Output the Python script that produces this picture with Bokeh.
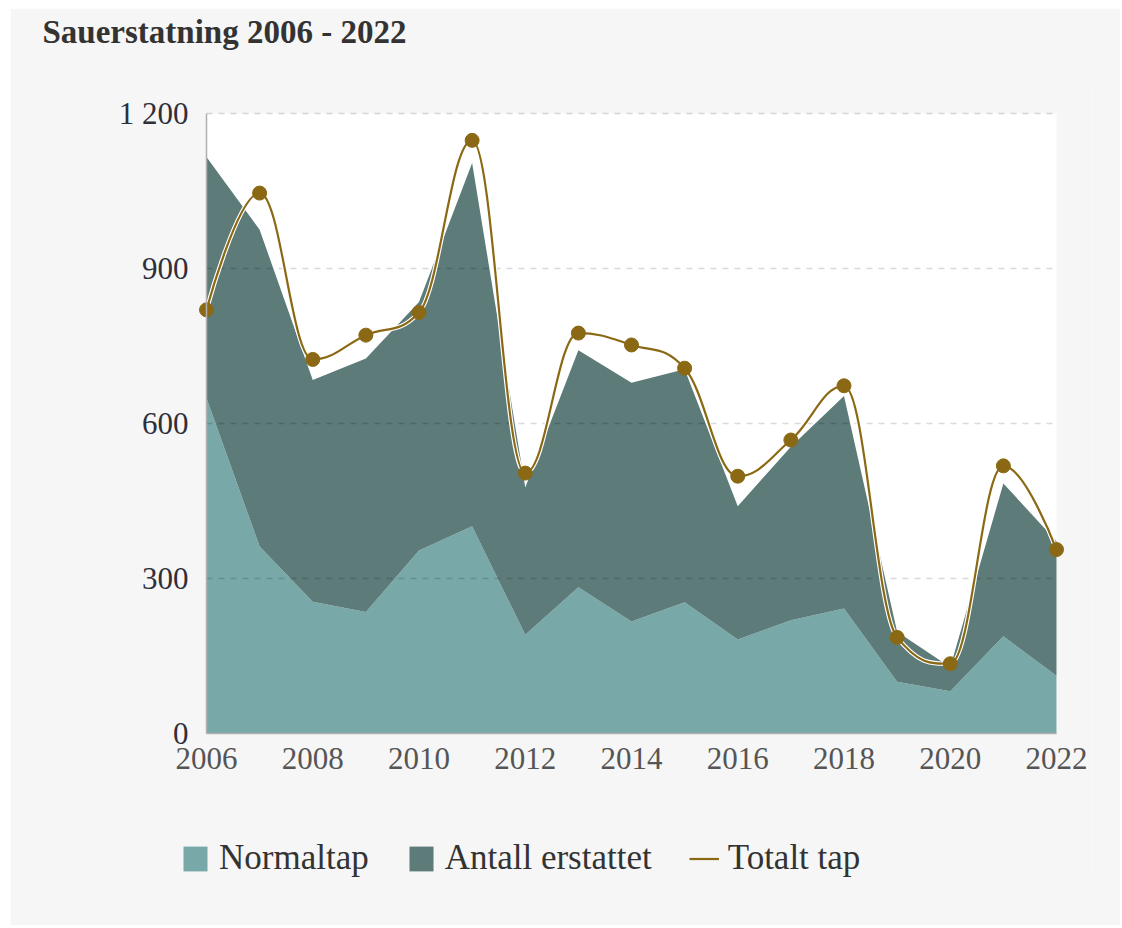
from bokeh.plotting import figure
from bokeh.models import (ColumnDataSource, FixedTicker, Legend, LegendItem, Title,
                          BoxAnnotation)
from bokeh.embed import file_html
from bokeh.resources import INLINE

# ---- data ----
years = list(range(2006, 2023))
normaltap = [649, 362, 255, 235, 354, 401, 191, 283, 217, 254, 182, 219, 242, 100, 82, 188, 112]
antall_erstattet = [467, 613, 429, 491, 481, 703, 285, 459, 462, 451, 258, 336, 411, 97, 46, 296, 260]
totalt_tap = [820, 1046, 724, 771, 815, 1148, 504, 775, 752, 707, 498, 568, 673, 186, 135, 518, 356]
y_ticks = [0, 300, 600, 900, 1200]
y_tick_labels = ["0", "300", "600", "900", "1 200"]
x_ticks = list(range(2006, 2023, 2))
series_names = ["Normaltap", "Antall erstattet", "Totalt tap"]
title_text = "Sauerstatning 2006 - 2022"

LIGHT = "#78a8a7"
DARK = "#5c7b79"
GOLD = "#8b6914"
BG = "#f6f6f6"
FONT = "Liberation Serif"

# ---- layout (pixels) ----
W, H = 1110, 917
B_LEFT, B_RIGHT, B_TOP, B_BOTTOM = 100, 28, 80, 47
PAD_L, PAD_R, PAD_T = 96, 36, 25   # frame space outside the plotting area (labels, legend)
PLOT_W = W - B_LEFT - B_RIGHT - PAD_L - PAD_R
PLOT_H = 620
FRAME_H = H - B_TOP - B_BOTTOM
x0, x1 = years[0], years[-1]
y_top = y_ticks[-1]
x_start = x0 - PAD_L * (x1 - x0) / PLOT_W
x_end = x1 + PAD_R * (x1 - x0) / PLOT_W
y_end = y_top + PAD_T * y_top / PLOT_H
y_start = y_end - FRAME_H * y_top / PLOT_H

src = ColumnDataSource(dict(year=years, normaltap=normaltap, erstattet=antall_erstattet, totalt=totalt_tap))

p = figure(width=W, height=H, output_backend="svg", toolbar_location=None,
           x_range=(x_start, x_end), y_range=(y_start, y_end),
           min_border_left=B_LEFT, min_border_right=B_RIGHT, min_border_top=B_TOP,
           min_border_bottom=B_BOTTOM)
p.margin = (8, 0, 0, 10)
p.background_fill_color = BG
p.border_fill_color = BG
p.outline_line_color = None
p.xgrid.visible = False
p.ygrid.visible = False

# white plotting area
p.add_layout(BoxAnnotation(left=x0, right=x1, bottom=0, top=y_top, fill_color="white",
                           fill_alpha=1, line_color=None, level="underlay"))

areas = p.varea_stack(["normaltap", "erstattet"], x="year", color=[LIGHT, DARK], source=src)

# dashed horizontal grid lines over the plotting area
gsrc = ColumnDataSource(dict(y=y_ticks[1:]))
p.segment(x0=x0, x1=x1, y0="y", y1="y", source=gsrc, line_color="black", line_alpha=0.15,
          line_dash="6 6", line_width=1.5)

# smooth spline through the total values (cubic Bezier segments, spline-style control points)
xs = [float(v) for v in years]
ys = [float(v) for v in totalt_tap]
n = len(xs)
sm = 1.5
lc = [None] * n
rc = [None] * n
for i in range(1, n - 1):
    px, py = xs[i], ys[i]
    lx_, ly_ = xs[i - 1], ys[i - 1]
    nx_, ny_ = xs[i + 1], ys[i + 1]
    lcx = (sm * px + lx_) / (sm + 1); lcy = (sm * py + ly_) / (sm + 1)
    rcx = (sm * px + nx_) / (sm + 1); rcy = (sm * py + ny_) / (sm + 1)
    corr = (rcy - lcy) * (rcx - px) / (rcx - lcx) + py - rcy
    lcy += corr; rcy += corr
    if lcy > ly_ and lcy > py:
        lcy = max(ly_, py); rcy = 2 * py - lcy
    elif lcy < ly_ and lcy < py:
        lcy = min(ly_, py); rcy = 2 * py - lcy
    if rcy > ny_ and rcy > py:
        rcy = max(ny_, py); lcy = 2 * py - rcy
    elif rcy < ny_ and rcy < py:
        rcy = min(ny_, py); lcy = 2 * py - rcy
    lc[i] = (lcx, lcy); rc[i] = (rcx, rcy)
lc[n - 1] = (xs[n - 1], ys[n - 1]); rc[0] = (xs[0], ys[0])
bsrc = ColumnDataSource(dict(
    x0=xs[:-1], y0=ys[:-1], x1=xs[1:], y1=ys[1:],
    cx0=[rc[i][0] for i in range(n - 1)], cy0=[rc[i][1] for i in range(n - 1)],
    cx1=[lc[i + 1][0] for i in range(n - 1)], cy1=[lc[i + 1][1] for i in range(n - 1)]))
p.bezier(x0="x0", y0="y0", x1="x1", y1="y1", cx0="cx0", cy0="cy0", cx1="cx1", cy1="cy1",
         source=bsrc, line_color="white", line_width=4.5)
line_r = p.bezier(x0="x0", y0="y0", x1="x1", y1="y1", cx0="cx0", cy0="cy0", cx1="cx1", cy1="cy1",
                  source=bsrc, line_color=GOLD, line_width=2.2)
p.scatter(x="year", y="totalt", source=src, size=14, fill_color=GOLD, line_color=GOLD)

# axes fixed at the plotting area's edges
p.yaxis.ticker = FixedTicker(ticks=y_ticks)
p.yaxis.major_label_overrides = {t: l for t, l in zip(y_ticks, y_tick_labels)}
p.xaxis.ticker = FixedTicker(ticks=x_ticks)
p.yaxis.fixed_location = x0
p.xaxis.fixed_location = 0
p.yaxis.bounds = (0, y_top)
p.xaxis.bounds = (x0, x1)
for ax in (p.xaxis[0], p.yaxis[0]):
    ax.major_tick_line_color = None
    ax.minor_tick_line_color = None
    ax.major_label_text_font = FONT
    ax.major_label_text_font_size = "31px"
    ax.axis_line_color = "#b0b0b0"
    ax.axis_line_width = 1.5
p.yaxis.major_label_text_color = "#2f2f3a"
p.xaxis.major_label_text_color = "#555555"
p.yaxis.major_label_standoff = 12
p.xaxis.major_label_standoff = 8

# titles: empty default, a spacer next to the frame, the real title above it
p.title.text = ""
p.add_layout(Title(text=" ", text_font_size="2px", standoff=35), "above")
p.add_layout(Title(text=title_text, align="left", offset=42 - (10 + B_LEFT), standoff=0,
                   vertical_align="bottom", text_font=FONT, text_font_size="33px",
                   text_font_style="bold", text_color="#333333"), "above")

# legend inside the (extended) frame, below the x axis labels
legend = Legend(items=[LegendItem(label=series_names[0], renderers=[areas[0]]),
                       LegendItem(label=series_names[1], renderers=[areas[1]]),
                       LegendItem(label=series_names[2], renderers=[line_r])],
                orientation="horizontal", location=(PAD_L - 26, 0),
                label_text_font=FONT, label_text_font_size="35px", label_text_color="#333333",
                glyph_width=30, glyph_height=31, label_standoff=9, spacing=37,
                padding=0, margin=0, border_line_color=None, background_fill_alpha=0)
p.add_layout(legend, "center")

open("out.html", "w").write(file_html(p, INLINE))
